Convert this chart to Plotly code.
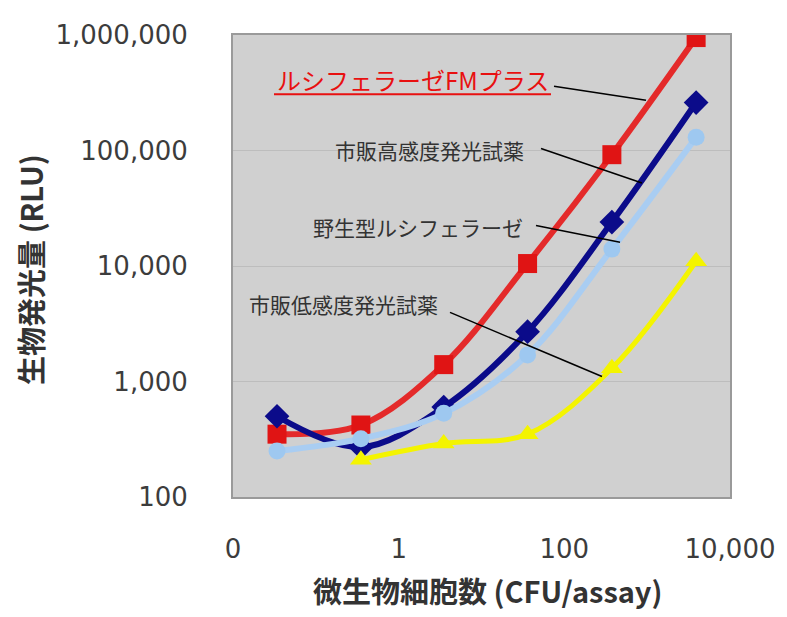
import plotly.graph_objects as go

# ---- data ----
cfu = [0.034, 0.35, 3.5, 36, 375, 3900]
fm_plus = [350, 420, 1400, 10500, 92000, 950000]          # ルシフェラーゼFMプラス
high_sens = [500, 270, 600, 2700, 24000, 260000]          # 市販高感度発光試薬
wild_type = [250, 320, 530, 1700, 14000, 130000]          # 野生型ルシフェラーゼ
low_sens = [None, 210, 290, 350, 1300, 11000]             # 市販低感度発光試薬

x_tickvals = [0.01, 1, 100, 10000]
x_ticktext = ["0", "1", "100", "10,000"]
y_tickvals = [100, 1000, 10000, 100000, 1000000]

# page offset (default body margin of the html page)
OFF = 8
W, H = 787 - OFF, 617 - OFF
L, R, T, B = 233, 730, 29, 497   # plot area in window pixels


def px(x):
    return (x - L) / (R - L)


def py(y):
    return (B - y) / (B - T)


fig = go.Figure()

series = [
    (fm_plus, "#e42a2a", "#e01414", "square", 19, 6),
    (high_sens, "#0b0b8a", "#0b0b8a", "diamond", 19, 6),
    (wild_type, "#a9cdf2", "#9ec8f0", "circle", 17, 6),
    (low_sens, "#f4f400", "#f4f400", "triangle-up", 19, 5),
]
for ys, lc, mc, sym, ms, lw in series:
    fig.add_trace(go.Scatter(
        x=cfu, y=ys, mode="lines+markers",
        line=dict(color=lc, width=lw, shape="spline", smoothing=1),
        marker=dict(symbol=sym, size=ms, color=mc, line=dict(width=0)),
        connectgaps=False, showlegend=False, hoverinfo="x+y",
    ))

tick_font = dict(family="DejaVu Sans", size=26, color="#3c3c3c")

fig.update_xaxes(
    type="log", range=[-2, 4], tickvals=x_tickvals, ticktext=x_ticktext,
    showgrid=False, zeroline=False, showline=True, mirror=True,
    linecolor="#9a9a9a", linewidth=2, ticks="", tickfont=tick_font,
    ticklabelstandoff=28,
)
fig.update_yaxes(
    type="log", range=[2, 6], tickvals=y_tickvals, tickformat=",",
    showgrid=True, gridcolor="#bdbdbd", gridwidth=1, zeroline=False,
    showline=True, mirror=True, linecolor="#9a9a9a", linewidth=2, ticks="",
    tickfont=tick_font, ticklabelstandoff=38,
)

annots = []
# axis titles
annots.append(dict(text="<b>微生物細胞数 (CFU/assay)</b>", xref="paper", yref="paper",
                   x=px(487), y=py(591), xanchor="center", yanchor="middle", showarrow=False,
                   font=dict(family="Noto Sans CJK JP", size=29, color="#333333")))
annots.append(dict(text="<b>生物発光量 (RLU)</b>", xref="paper", yref="paper",
                   x=px(30), y=py(267), xanchor="center", yanchor="middle", showarrow=False,
                   textangle=-90,
                   font=dict(family="Noto Sans CJK JP", size=29, color="#333333")))

# series labels
labels = [
    ("ルシフェラーゼFMプラス", 275, 74, "#e81010", 24),
    ("市販高感度発光試薬", 333, 145, "#333333", 21),
    ("野生型ルシフェラーゼ", 311, 224, "#333333", 21),
    ("市販低感度発光試薬", 247, 301, "#333333", 21),
]
for txt, x0, y0, col, fs in labels:
    annots.append(dict(text=txt, xref="paper", yref="paper", x=px(x0), y=py(y0),
                       xanchor="left", yanchor="middle", showarrow=False,
                       font=dict(family="Noto Sans CJK JP", size=fs, color=col)))

shapes = []
# underline of red label
shapes.append(dict(type="line", xref="paper", yref="paper",
                   x0=px(274), x1=px(551), y0=py(89), y1=py(89),
                   line=dict(color="#e81010", width=2)))
# leader lines
leaders = [
    (554, 81, 646, 95),
    (541, 144, 642, 179),
    (536, 222, 620, 239),
    (450, 310, 602, 375),
]
for x0, y0, x1, y1 in leaders:
    shapes.append(dict(type="line", xref="paper", yref="paper",
                       x0=px(x0), y0=py(y0), x1=px(x1), y1=py(y1),
                       line=dict(color="#000000", width=1.5)))

fig.update_layout(
    width=W, height=H,
    margin=dict(l=L - OFF, r=787 - R, t=T - OFF, b=617 - B),
    plot_bgcolor="#d0d0d0", paper_bgcolor="#ffffff",
    annotations=annots, shapes=shapes, showlegend=False,
)

fig.write_html("out.html")
